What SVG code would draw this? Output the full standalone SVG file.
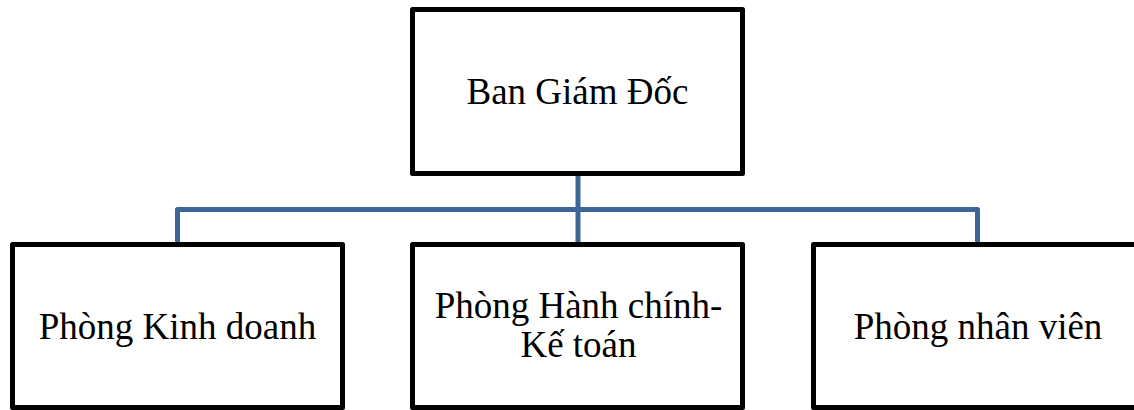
<svg xmlns="http://www.w3.org/2000/svg" width="1134" height="410" viewBox="0 0 1134 410">
<style>
.box{fill:#fff;stroke:#000;stroke-width:5;stroke-linejoin:round}
.lbl{font-family:"Liberation Serif","Times New Roman",serif;font-size:37px;fill:#000;text-anchor:middle}
.conn{fill:none;stroke:#3d6595;stroke-width:5;stroke-linejoin:round}
</style>
<rect width="1134" height="410" fill="#fff"/>
<g id="connectors">
<path class="conn" d="M578 176 V242"/>
<path class="conn" d="M177.5 242 V209.5 H977.5 V242"/>
</g>
<g id="ban-giam-doc">
<rect class="box" x="412.5" y="9.5" width="330" height="164"/>
<text class="lbl" x="577.5" y="104">Ban Giám Đốc</text>
</g>
<g id="phong-kinh-doanh">
<rect class="box" x="12.5" y="244.5" width="330" height="163"/>
<text class="lbl" x="177.5" y="339">Phòng Kinh doanh</text>
</g>
<g id="phong-hanh-chinh-ke-toan">
<rect class="box" x="412.5" y="244.5" width="330" height="163"/>
<text class="lbl" x="578.5" y="318">Phòng Hành chính-</text>
<text class="lbl" x="578.5" y="357">Kế toán</text>
</g>
<g id="phong-nhan-vien">
<rect class="box" x="813.5" y="244.5" width="330" height="163"/>
<text class="lbl" x="978" y="339">Phòng nhân viên</text>
</g>
</svg>
